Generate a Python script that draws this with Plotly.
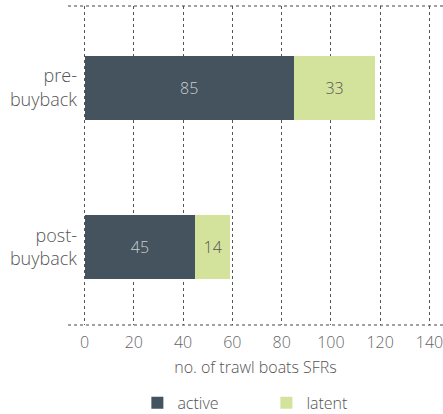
import plotly.graph_objects as go

categories = ["post-<br>buyback", "pre-<br>buyback"]
active = [45, 85]
latent = [14, 33]
tick_vals = [0, 20, 40, 60, 80, 100, 120, 140]

dark = "#44535d"
green = "#d4e39c"
font_family = "Open Sans, Noto Sans, sans-serif"

fig = go.Figure()
fig.add_trace(go.Bar(
    y=categories, x=active, orientation="h", name="active",
    marker=dict(color=dark, line=dict(width=0)),
    text=active, textposition="inside", insidetextanchor="middle",
    textfont=dict(color="#c9ced1", size=16, family=font_family, weight=300),
))
fig.add_trace(go.Bar(
    y=categories, x=latent, orientation="h", name="latent",
    marker=dict(color=green, line=dict(width=0)),
    text=latent, textposition="inside", insidetextanchor="middle",
    textfont=dict(color="#555555", size=16, family=font_family, weight=300),
))

# dotted frame lines top and bottom
for yy in [0, 1]:
    fig.add_shape(type="line", xref="paper", yref="paper", x0=0, x1=1, y0=yy, y1=yy,
                  line=dict(color="#444444", width=1, dash="dot"))

fig.update_layout(
    barmode="stack",
    bargap=0.6,
    width=443, height=414,
    margin=dict(l=68, r=0, t=6, b=89, autoexpand=False),
    plot_bgcolor="white", paper_bgcolor="white",
    font=dict(family=font_family, color="#555555", weight=300),
    showlegend=True,
    legend=dict(orientation="h", x=0.185, xanchor="left", y=-0.191, yanchor="top",
                font=dict(size=16, color="#555555", weight=300), itemwidth=30,
                entrywidth=84, entrywidthmode="pixels",
                traceorder="normal"),
)
fig.update_xaxes(
    range=[-6.7, 145.5], tickvals=tick_vals, automargin=False,
    showgrid=True, gridcolor="#555555", griddash="dot", gridwidth=1,
    zeroline=False, showline=False, ticks="", ticklabelstandoff=6,
    ticklabeloverflow="allow",
    tickfont=dict(size=16, color="#666666", weight=300),
    title=dict(text="no. of trawl boats SFRs",
               font=dict(size=16, color="#555555", weight=300), standoff=9),
)
fig.update_yaxes(
    range=[-0.4875, 1.5125],
    showgrid=False, zeroline=False, showline=False, automargin=False,
    tickfont=dict(size=18, color="#555555", weight=300), ticklabelstandoff=-10,
)

# page body has a default margin; drop it so the figure sits at the corner
fig.write_html("out.html", config={"displayModeBar": False},
               post_script="document.body.style.margin='0';")
